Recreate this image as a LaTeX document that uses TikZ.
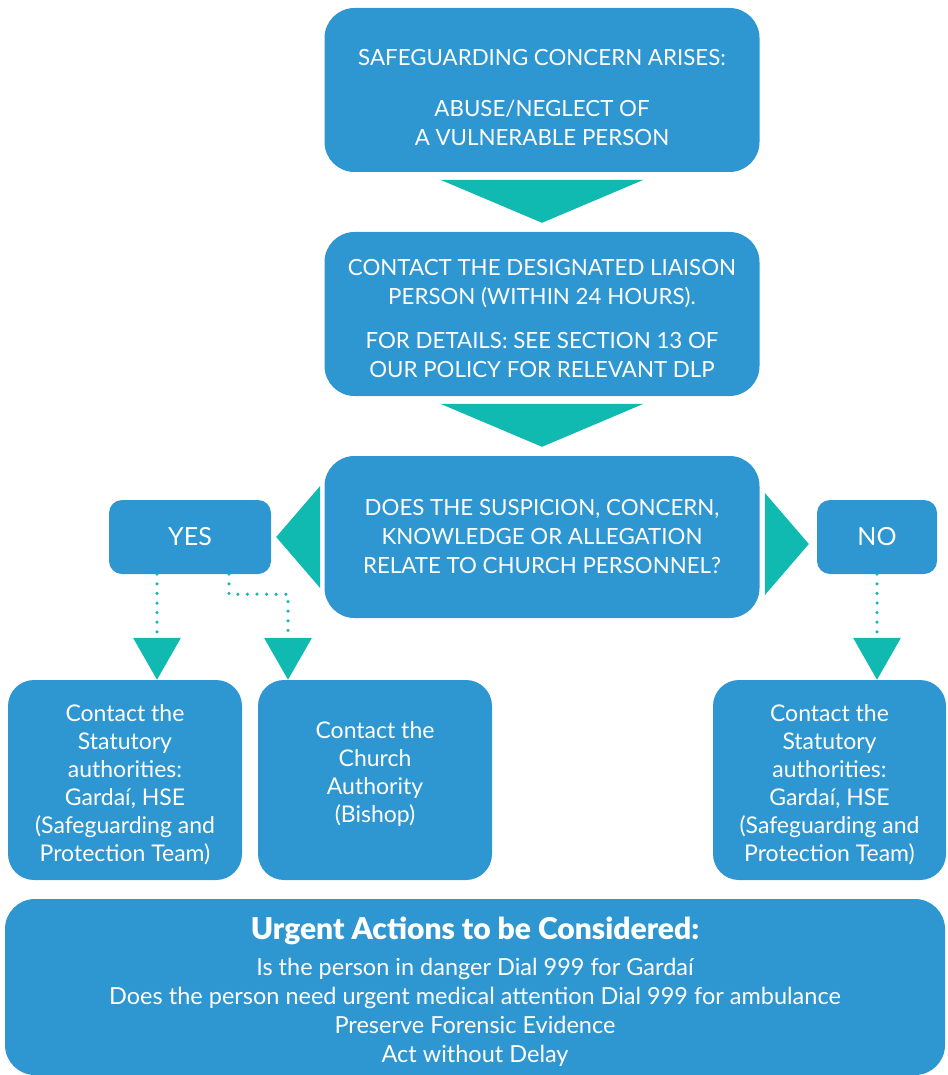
\documentclass[tikz,border=0pt]{standalone}
\usepackage{fontspec}
\setmainfont{Lato}
\newfontfamily\headfont{Lato}[UprightFont=* Black]
\usetikzlibrary{arrows.meta}

\definecolor{boxblue}{RGB}{46,150,208}
\definecolor{arrowteal}{RGB}{16,186,176}

\begin{document}
\begin{tikzpicture}[x=1pt,y=-1pt,
  bigbox/.style={rectangle, fill=boxblue, text=white, rounded corners=30pt, align=center,
    inner sep=0pt, minimum width=435pt, minimum height=164pt, font=\fontsize{22.3}{29}\selectfont},
  smallbox/.style={rectangle, fill=boxblue, text=white, rounded corners=13pt, align=center,
    inner sep=0pt, minimum width=162pt, minimum height=74pt, font=\fontsize{25}{29}\selectfont},
  actbox/.style={rectangle, fill=boxblue, text=white, rounded corners=26pt, align=center,
    inner sep=0pt, minimum width=234pt, minimum height=200pt, font=\fontsize{23}{28}\selectfont},
  downtip/.style={draw=arrowteal, line width=1pt, -{Triangle[width=203pt,length=43pt]}},
  sidetip/.style={draw=arrowteal, line width=1pt, -{Triangle[width=102pt,length=44pt]}},
  dotline/.style={draw=arrowteal, line width=3.5pt, line cap=round, dash pattern=on 0pt off 9.6pt,
    -{Triangle[width=47pt,length=42pt]}}]
\useasboundingbox (0,0) rectangle (947,1075);

\node [bigbox] (concern) at (542,90) {\rule{0pt}{32pt}SAFEGUARDING CONCERN ARISES:\\[22pt]ABUSE/NEGLECT OF\\A VULNERABLE PERSON};
\node [bigbox] (dlp) at (542,314) {\rule{0pt}{26pt}CONTACT THE DESIGNATED LIAISON\\PERSON (WITHIN 24 HOURS).\\[15pt]FOR DETAILS: SEE SECTION 13 OF\\OUR POLICY FOR RELEVANT DLP};
\node [bigbox, minimum height=162pt] (question) at (542,537) {DOES THE SUSPICION, CONCERN,\\KNOWLEDGE OR ALLEGATION\\RELATE TO CHURCH PERSONNEL?};

\node [smallbox] (yes) at (190,537) {YES};
\node [smallbox, minimum width=120pt] (no) at (877,537) {NO};

\node [actbox] (statleft) at (125,780) {\rule{0pt}{26pt}Contact the\\Statutory\\authorities:\\Gardaí, HSE\\(Safeguarding and\\Protection Team)};
\node [actbox] (church) at (375,780) {Contact the\\Church\\Authority\\(Bishop)\rule[-15pt]{0pt}{0pt}};
\node [actbox, minimum width=233pt] (statright) at (829.5,780) {\rule{0pt}{26pt}Contact the\\Statutory\\authorities:\\Gardaí, HSE\\(Safeguarding and\\Protection Team)};

\node [rectangle, fill=boxblue, text=white, rounded corners=30pt, align=center, inner sep=0pt,
  minimum width=940pt, minimum height=176pt, font=\fontsize{23.5}{29}\selectfont] (urgent) at (475,987)
  {{\fontsize{30}{29}\selectfont\headfont\rule{0pt}{32pt}Urgent Actions to be Considered:}\\[7pt]
   Is the person in danger Dial 999 for Gardaí\\
   Does the person need urgent medical attention Dial 999 for ambulance\\
   Preserve Forensic Evidence\\
   Act without Delay};

% big arrows
\draw [downtip, shorten <=8pt, shorten >=9pt] (concern) -- (dlp);
\draw [downtip, shorten <=8pt, shorten >=9pt] (dlp) -- (question);
\draw [sidetip, shorten <=5pt, shorten >=5pt] (question) -- (yes);
\draw [sidetip, shorten <=6pt, shorten >=8pt] ([yshift=-7pt]question.east) -- ([yshift=-7pt]no.west);

% dotted arrows
\draw [dotline] ([xshift=-33pt]yes.south) -- ([xshift=32pt]statleft.north);
\draw [dotline] ([xshift=39pt]yes.south) -- ++(0,20) -| ([xshift=-87pt]church.north);
\draw [dotline] (no.south) -- ([xshift=47.5pt]statright.north);
\end{tikzpicture}
\end{document}
